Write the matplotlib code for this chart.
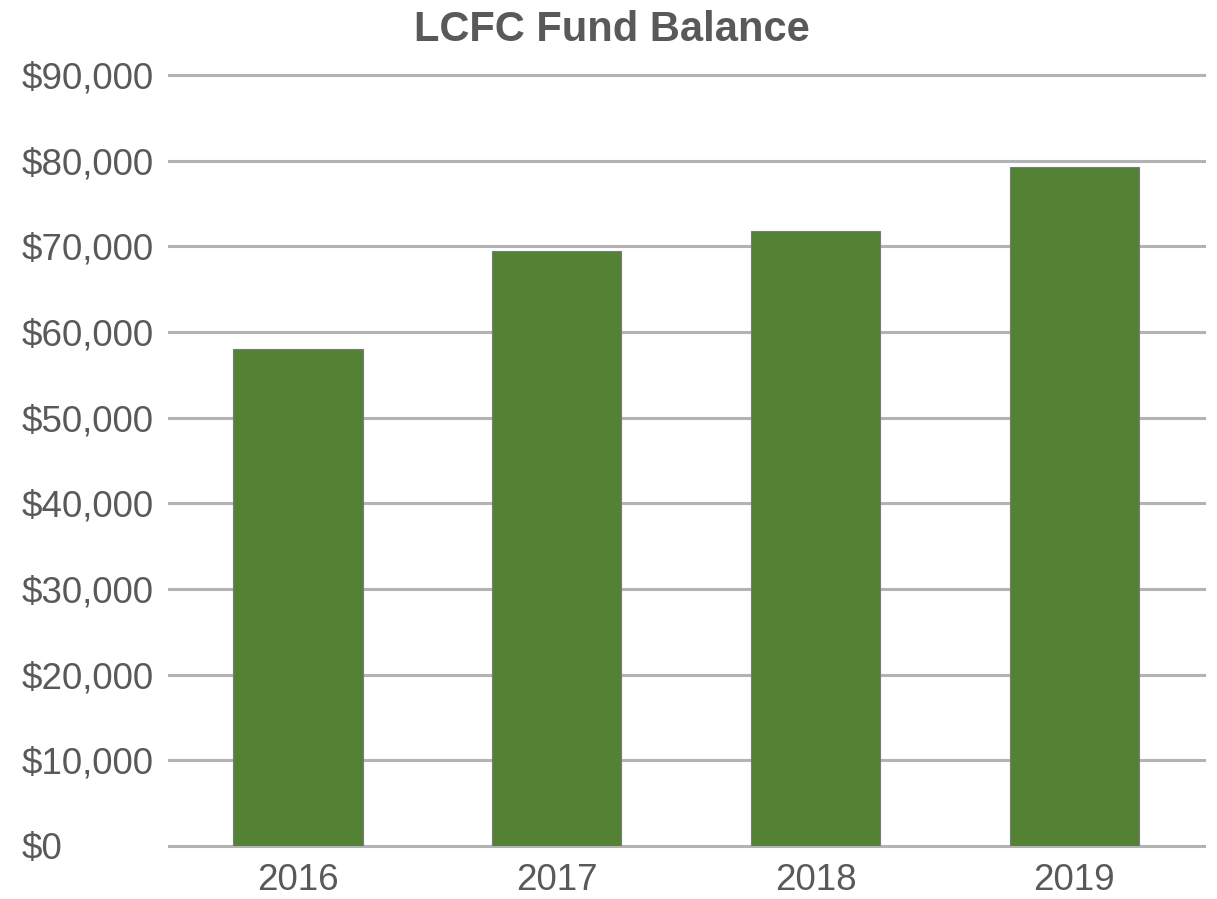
import matplotlib
matplotlib.use("Agg")
import matplotlib.pyplot as plt
from matplotlib.ticker import FuncFormatter

years = ["2016", "2017", "2018", "2019"]
balances = [58000, 69400, 71800, 79300]
y_ticks = list(range(0, 90001, 10000))

plt.rcParams['font.family'] = ['Liberation Sans', 'DejaVu Sans']
text_color = "#595959"

fig = plt.figure(figsize=(12.17, 8.99), dpi=100)
ax = fig.add_axes([0.1385, 0.059, 0.8505, 0.8576])

x = range(len(years))
ax.bar(x, balances, width=0.5, color="#548235", edgecolor="#7a7a7a", linewidth=0.8, zorder=3)

ax.set_xlim(-0.5, len(years) - 0.5)
ax.set_ylim(0, 90000)
ax.set_yticks(y_ticks)
ax.yaxis.set_major_formatter(FuncFormatter(lambda v, p: f"${int(v):,}"))
ax.set_xticks(list(x))
ax.set_xticklabels(years)

ax.grid(axis="y", color="#b3b3b3", linewidth=2.2, zorder=0)
ax.set_axisbelow(True)
for line in ax.get_ygridlines():
    line.set_clip_on(False)
for s in ax.spines.values():
    s.set_visible(False)
ax.tick_params(axis="both", length=0, labelsize=26.5, colors=text_color)
ax.tick_params(axis="y", pad=105.5)
ax.tick_params(axis="x", pad=12)
for lbl in ax.get_yticklabels():
    lbl.set_horizontalalignment("left")

fig.text(0.503, 0.967, "LCFC Fund Balance", ha="center", va="center",
         fontsize=30, fontweight="bold", color=text_color)

fig.savefig("out.png", dpi=100)
